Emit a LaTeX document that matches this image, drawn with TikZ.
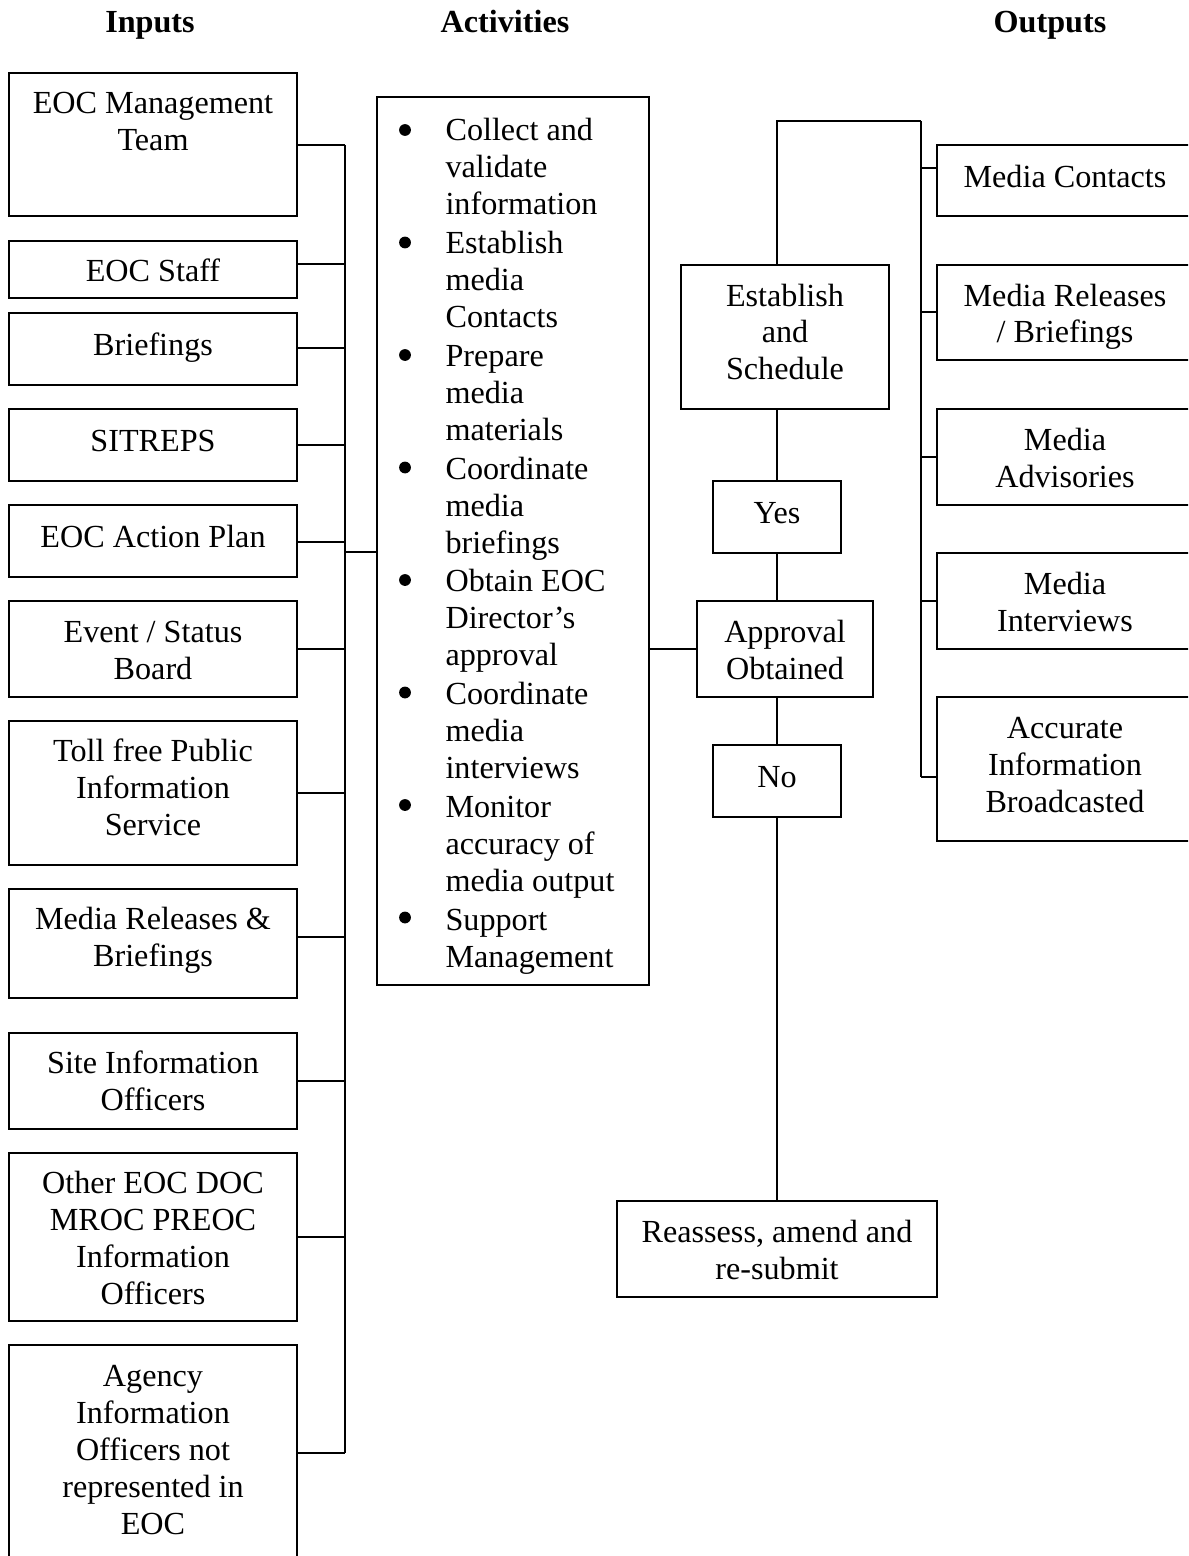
\documentclass[tikz,border=0pt]{standalone}
\usepackage{fontspec}
\setmainfont{Liberation Serif}
\usetikzlibrary{fit}
\tikzset{
  box/.style={draw, line width=0.75pt, inner sep=0pt},
  lbl/.style={anchor=base, inner sep=0pt, font=\fontsize{12}{13.8}\selectfont},
  hdr/.style={lbl, font=\fontsize{12}{13.8}\selectfont\bfseries},
  wire/.style={line width=0.75pt},
  bul/.style={fill=black},
}
\newcommand\lines[1]{\begin{tabular}[t]{@{}c@{}}#1\end{tabular}}
\newcommand\inbox[6]{%
  \node[box, fit={(9,#2) (297,#3)}] (#1) {};
  \node[lbl] (#1t) at (153,#5) {\lines{#6}};
  \coordinate (#1c) at (345,#4);
  \draw[wire] (#1c -| #1.east) -- (#1c);}
\newcommand\outbox[6]{%
  \node[box, fit={(937,#2) (1193,#3)}] (#1) {};
  \node[lbl] (#1t) at (1065,#5) {\lines{#6}};
  \coordinate (#1c) at (921,#4);
  \draw[wire] (#1c) -- (#1c -| #1.west);}
\begin{document}
\begin{tikzpicture}[x=0.373pt, y=-0.373pt]
\useasboundingbox (0,0) rectangle (1188,1556);
\clip (0,0) rectangle (1188,1556);

% headers
\node[hdr] (hin)  at (150,33)  {Inputs};
\node[hdr] (hact) at (505,33)  {Activities};
\node[hdr] (hout) at (1050,33) {Outputs};

% inputs
\inbox{b1}{73}{216}{145}{114}{EOC Management\\Team}
\inbox{b2}{241}{298}{264}{281}{EOC Staff}
\inbox{b3}{313}{385}{348}{355}{Briefings}
\inbox{b4}{409}{481}{445}{451}{SITREPS}
\inbox{b5}{505}{577}{542}{547}{EOC Action Plan}
\inbox{b6}{601}{697}{649}{642}{Event / Status\\Board}
\inbox{b7}{721}{865}{793}{761}{Toll free Public\\Information\\Service}
\inbox{b8}{889}{998}{937}{929}{Media Releases \&\\Briefings}
\inbox{b9}{1033}{1129}{1081}{1073}{Site Information\\Officers}
\inbox{b10}{1153}{1321}{1237}{1193}{Other EOC DOC\\MROC PREOC\\Information\\Officers}
\inbox{b11}{1345}{1561}{1453}{1386}{Agency\\Information\\Officers not\\represented in\\EOC}
\draw[wire] (b1c) -- (b11c);

% activities
\node[box, fit={(377,97) (649,985)}] (act) {};
\node[lbl, anchor=base west] (actt) at (445,141) {%
\begin{tabular}[t]{@{}l@{}}
Collect and\\
validate\\
information\\[0.65pt]
Establish\\
media\\
Contacts\\[0.65pt]
Prepare\\
media\\
materials\\[0.65pt]
Coordinate\\
media\\
briefings\\[0.65pt]
Obtain EOC\\
Director’s\\
approval\\[0.65pt]
Coordinate\\
media\\
interviews\\[0.65pt]
Monitor\\
accuracy of\\
media output\\[0.65pt]
Support\\
Management
\end{tabular}};
\foreach \by in {130,242.5,355,467.5,580,692.5,805,917.5}
  \fill[bul] (405,\by) circle (2.2pt);
\coordinate (actin) at (345,552);
\draw[wire] (actin) -- (actin -| act.west);

% decision chain
\node[box, fit={(681,265) (889,409)}] (est) {};
\node[lbl] (estt) at (785,306) {\lines{Establish\\and\\Schedule}};
\node[box, fit={(713,481) (841,553)}] (yes) {};
\node[lbl] (yest) at (777,523) {Yes};
\node[box, fit={(697,601) (873,697)}] (appr) {};
\node[lbl] (apprt) at (785,642) {\lines{Approval\\Obtained}};
\node[box, fit={(713,745) (841,817)}] (no) {};
\node[lbl] (not) at (777,787) {No};
\node[box, fit={(617,1201) (937,1297)}] (reas) {};
\node[lbl] (reast) at (777,1242) {\lines{Reassess, amend and\\re-submit}};

\draw[wire] (act.east |- appr.west) -- (appr.west);
\draw[wire] (yes.north) -- (yes.north |- est.south);
\draw[wire] (yes.south) -- (yes.south |- appr.north);
\draw[wire] (no.north) -- (no.north |- appr.south);
\draw[wire] (no.south) -- (no.south |- reas.north);

% outputs
\coordinate (otop) at (921,121);
\draw[wire] (yes.north |- est.north) -- (yes.north |- otop) -- (otop);
\outbox{o1}{145}{216}{168}{187}{Media Contacts}
\outbox{o2}{265}{360}{312}{306}{Media Releases\\/ Briefings}
\outbox{o3}{409}{505}{457}{450}{Media\\Advisories}
\outbox{o4}{553}{649}{601}{594}{Media\\Interviews}
\outbox{o5}{697}{841}{777}{738}{Accurate\\Information\\Broadcasted}
\draw[wire] (otop) -- (o5c);
\end{tikzpicture}
\end{document}
